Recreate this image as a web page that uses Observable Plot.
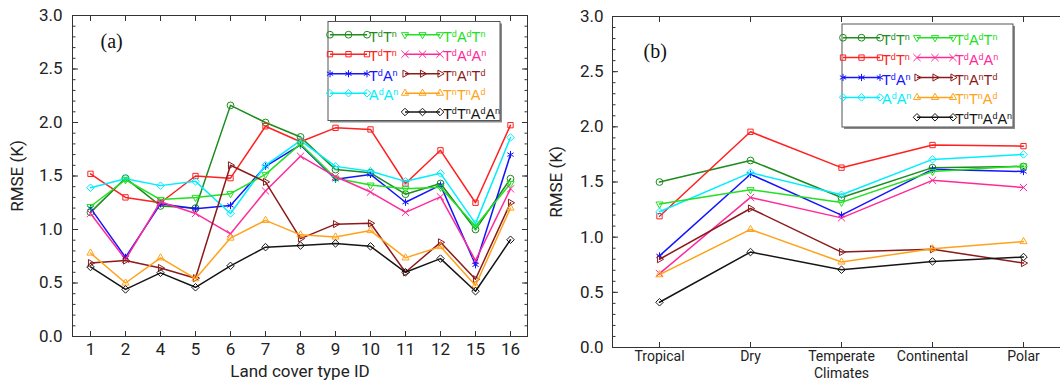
<!DOCTYPE html>
<html>
<head>
<meta charset="utf-8">
<script src="https://cdn.jsdelivr.net/npm/d3@7"></script>
<script src="https://cdn.jsdelivr.net/npm/@observablehq/plot@0.6"></script>
<style>
html, body { margin: 0; padding: 0; background: #fff; overflow: hidden; }
#wrap { position: relative; width: 1060px; height: 383px; overflow: hidden; background: #fff; }
.panel { position: absolute; top: 0; }
.panel svg { max-width: none !important; }
#legendLayer { position: absolute; left: 0; top: 0; pointer-events: none; }
</style>
</head>
<body>
<div id="wrap">
  <div id="panelA" class="panel" style="left:0px;width:530px;height:383px"></div>
  <div id="panelB" class="panel" style="left:530px;width:540px;height:383px"></div>
</div>
<script>
// ---------- categories ----------
const landCoverIDs = ["1","2","4","5","6","7","8","9","10","11","12","15","16"];
const climateZones = ["Tropical","Dry","Temperate Climates","Continental","Polar"];
const climateTickLabels = ["Tropical","Dry","Temperate\nClimates","Continental","Polar"];
const yMajorTicks = [0,0.5,1,1.5,2,2.5,3];
const yMinorTicks = [0,0.1,0.2,0.3,0.4,0.5,0.6,0.7,0.8,0.9,1,1.1,1.2,1.3,1.4,1.5,1.6,1.7,1.8,1.9,2,2.1,2.2,2.3,2.4,2.5,2.6,2.7,2.8,2.9,3];

// ---------- series metadata ----------
const seriesKeys = ["TdTn_1","TdTn_2","TdAn","AdAn","TdAdTn","TdAdAn","TnAnTd","TnTnAd","TdTnAdAn"];
const seriesLabels = [
  [["T","d"],["T","n"]],
  [["T","d"],["T","n"]],
  [["T","d"],["A","n"]],
  [["A","d"],["A","n"]],
  [["T","d"],["A","d"],["T","n"]],
  [["T","d"],["A","d"],["A","n"]],
  [["T","n"],["A","n"],["T","d"]],
  [["T","n"],["T","n"],["A","d"]],
  [["T","d"],["T","n"],["A","d"],["A","n"]]
];
const seriesColors = ["#1c8c1c","#ff2020","#1414ff","#00eeff","#22e022","#ff2a9a","#8b1a1a","#ffa21a","#151515"];
const seriesSymbols = ["circle","square2","asterisk","diamond2","triangle2","times","triangle2","triangle2","diamond2"];
const seriesRotate = [0,0,0,0,180,0,90,0,0];

// ---------- panel (a): RMSE by land cover type ----------
const a_TdTn_1   = [1.16,1.48,1.22,1.20,2.16,2.00,1.865,1.56,1.53,1.33,1.43,1.00,1.475];
const a_TdTn_2   = [1.52,1.30,1.25,1.50,1.48,1.965,1.82,1.95,1.935,1.43,1.74,1.25,1.975];
const a_TdAn     = [1.20,0.74,1.24,1.195,1.225,1.59,1.79,1.47,1.515,1.255,1.415,0.67,1.70];
const a_AdAn     = [1.39,1.475,1.41,1.45,1.15,1.60,1.83,1.59,1.545,1.45,1.525,1.055,1.86];
const a_TdAdTn   = [1.215,1.465,1.28,1.30,1.335,1.515,1.80,1.48,1.415,1.38,1.395,1.03,1.43];
const a_TdAdAn   = [1.15,0.72,1.26,1.15,0.96,1.36,1.685,1.495,1.35,1.16,1.305,0.71,1.38];
const a_TnAnTd   = [0.686,0.71,0.64,0.545,1.60,1.445,0.915,1.05,1.058,0.60,0.88,0.535,1.25];
const a_TnTnAd   = [0.78,0.50,0.735,0.54,0.92,1.085,0.95,0.93,0.99,0.735,0.84,0.477,1.20];
const a_TdTnAdAn = [0.65,0.44,0.595,0.46,0.66,0.835,0.85,0.87,0.843,0.60,0.728,0.423,0.904];

// ---------- panel (b): RMSE by climate zone ----------
const b_TdTn_1   = [1.50,1.695,1.36,1.63,1.64];
const b_TdTn_2   = [1.19,1.955,1.63,1.835,1.825];
const b_TdAn     = [0.83,1.57,1.20,1.615,1.595];
const b_AdAn     = [1.23,1.585,1.385,1.705,1.75];
const b_TdAdTn   = [1.30,1.43,1.315,1.595,1.645];
const b_TdAdAn   = [0.67,1.36,1.175,1.515,1.45];
const b_TnAnTd   = [0.80,1.26,0.865,0.89,0.765];
const b_TnTnAd   = [0.66,1.07,0.775,0.895,0.96];
const b_TdTnAdAn = [0.41,0.865,0.705,0.78,0.82];

const aSeries = [a_TdTn_1,a_TdTn_2,a_TdAn,a_AdAn,a_TdAdTn,a_TdAdAn,a_TnAnTd,a_TnTnAd,a_TdTnAdAn];
const bSeries = [b_TdTn_1,b_TdTn_2,b_TdAn,b_AdAn,b_TdAdTn,b_TdAdAn,b_TnAnTd,b_TnTnAd,b_TdTnAdAn];

function toTable(seriesList, cats) {
  return seriesList.flatMap((vals, i) => vals.map((v, j) => ({cat: cats[j], value: v, key: seriesKeys[i], idx: i})));
}
const tableA = toTable(aSeries, landCoverIDs);
const tableB = toTable(bSeries, climateZones);

function seriesMarks(table) {
  const out = [];
  seriesKeys.forEach((k, i) => {
    const d = table.filter(r => r.idx === i);
    out.push(Plot.line(d, {x: "cat", y: "value", stroke: seriesColors[i], strokeWidth: 1.5}));
    out.push(Plot.dot(d, {x: "cat", y: "value", stroke: seriesColors[i], fill: "none", strokeWidth: 1,
      symbol: seriesSymbols[i], rotate: seriesRotate[i], r: 3.4}));
  });
  return out;
}

function axisMarks(opts) {
  return [
    Plot.frame({stroke: "#333", strokeWidth: 1}),
    Plot.axisY(yMajorTicks, {anchor: "left", tickSize: 0, tickPadding: opts.yPad, tickFormat: d3.format(".1f"),
      fontSize: 17, label: "RMSE (K)", labelAnchor: "center", labelArrow: "none", labelOffset: opts.yLabelOffset}),
    Plot.axisY(yMinorTicks, {anchor: "left", tickSize: -3.5, fill: "none", label: null, stroke: "#333"}),
    Plot.axisY(yMajorTicks, {anchor: "left", tickSize: -6, fill: "none", label: null, stroke: "#333"}),
    Plot.axisY(yMinorTicks, {anchor: "right", tickSize: -3.5, fill: "none", label: null, stroke: "#333"}),
    Plot.axisY(yMajorTicks, {anchor: "right", tickSize: -6, fill: "none", label: null, stroke: "#333"}),
    Plot.axisX({anchor: "top", tickSize: -5, fill: "none", label: null, stroke: "#333"}),
    Plot.axisX({anchor: "bottom", tickSize: -5, fill: "none", label: null, stroke: "#333"}),
    Plot.axisX({anchor: "bottom", tickSize: 0, tickPadding: opts.xPad, fontSize: opts.xFont, lineHeight: 1.18,
      tickFormat: opts.xFormat, label: opts.xLabel, labelAnchor: "center", labelArrow: "none", labelOffset: opts.xLabelOffset})
  ];
}

const baseStyle = {fontFamily: "Roboto, 'Liberation Sans', sans-serif", fontSize: "17px", color: "#222", background: "#fff", overflow: "visible", maxWidth: "none"};

const plotA = Plot.plot({
  width: 530, height: 383,
  marginLeft: 72, marginRight: 3, marginTop: 15, marginBottom: 47,
  x: {type: "point", domain: landCoverIDs, padding: 0.5},
  y: {domain: [0, 3]},
  style: baseStyle,
  marks: [
    ...axisMarks({yPad: 10, yLabelOffset: 62, xPad: 4, xFont: 17, xFormat: d => d, xLabel: "Land cover type ID", xLabelOffset: 40}),
    ...seriesMarks(tableA),
    Plot.text(["(a)"], {frameAnchor: "top-left", dx: 28, dy: 18, text: d => d, fontFamily: "'Liberation Serif', serif",
      fontSize: 20, textAnchor: "start", lineAnchor: "top", fill: "#111"})
  ]
});
document.getElementById("panelA").appendChild(plotA);

const plotB = Plot.plot({
  width: 540, height: 383,
  marginLeft: 82, marginRight: 1, marginTop: 16, marginBottom: 36,
  x: {type: "point", domain: climateZones, padding: 0.5},
  y: {domain: [0, 3]},
  style: baseStyle,
  marks: [
    ...axisMarks({yPad: 9, yLabelOffset: 63, xPad: 2, xFont: 14,
      xFormat: d => climateTickLabels[climateZones.indexOf(d)], xLabel: null, xLabelOffset: 30}),
    ...seriesMarks(tableB),
    Plot.text(["(b)"], {frameAnchor: "top-left", dx: 31, dy: 27, text: d => d, fontFamily: "'Liberation Serif', serif",
      fontSize: 20, textAnchor: "start", lineAnchor: "top", fill: "#111"})
  ]
});
document.getElementById("panelB").appendChild(plotB);

// ---------- in-plot legends (layout only) ----------
const symbolTypes = {
  circle: d3.symbolCircle, square2: d3.symbolSquare2, asterisk: d3.symbolAsterisk,
  diamond2: d3.symbolDiamond2, triangle2: d3.symbolTriangle2, times: d3.symbolTimes
};
const layer = d3.select("#wrap").append("svg").attr("id", "legendLayer").attr("width", 1060).attr("height", 383);

function drawLegend(box, cols, rows) {
  const g = layer.append("g");
  g.append("rect").attr("x", box.x + 2).attr("y", box.y + 2).attr("width", box.w).attr("height", box.h).attr("fill", "#8a8a8a");
  g.append("rect").attr("x", box.x).attr("y", box.y).attr("width", box.w).attr("height", box.h).attr("fill", "#fff").attr("stroke", "#555").attr("stroke-width", 1);
  const slots = [[0,0],[0,1],[0,2],[0,3],[1,0],[1,1],[1,2],[1,3],[1,4]];
  seriesKeys.forEach((k, i) => {
    const [c, r] = slots[i];
    const x0 = cols[c].x0, x1 = cols[c].x1, tx = cols[c].tx, y = rows[r];
    const color = seriesColors[i];
    g.append("line").attr("x1", x0).attr("x2", x1).attr("y1", y).attr("y2", y).attr("stroke", color).attr("stroke-width", 1.5);
    [x0, (x0 + x1) / 2, x1].forEach(mx => {
      g.append("path").attr("d", d3.symbol(symbolTypes[seriesSymbols[i]], Math.PI * 3.4 * 3.4)())
        .attr("transform", `translate(${mx},${y}) rotate(${seriesRotate[i]})`)
        .attr("fill", "none").attr("stroke", color).attr("stroke-width", 1);
    });
    const t = g.append("text").attr("x", tx).attr("y", y + 7).attr("fill", color)
      .attr("font-family", "'Liberation Sans', Arial, sans-serif").attr("font-size", 14.5);
    seriesLabels[i].forEach(([base, sup], j) => {
      t.append("tspan").attr("dy", j === 0 ? 0 : 5).text(base);
      t.append("tspan").attr("dy", -5).attr("font-size", 9).text(sup);
    });
  });
}
drawLegend({x: 328, y: 21.5, w: 172, h: 99},
  [{x0: 330, x1: 367, tx: 369}, {x0: 405, x1: 440, tx: 443}],
  [34.7, 54.2, 73.7, 93.2, 112]);
drawLegend({x: 842, y: 24, w: 171, h: 103},
  [{x0: 843, x1: 880, tx: 882}, {x0: 917, x1: 953, tx: 955}],
  [37.7, 57.6, 77.5, 97.4, 117.3]);
</script>
</body>
</html>
